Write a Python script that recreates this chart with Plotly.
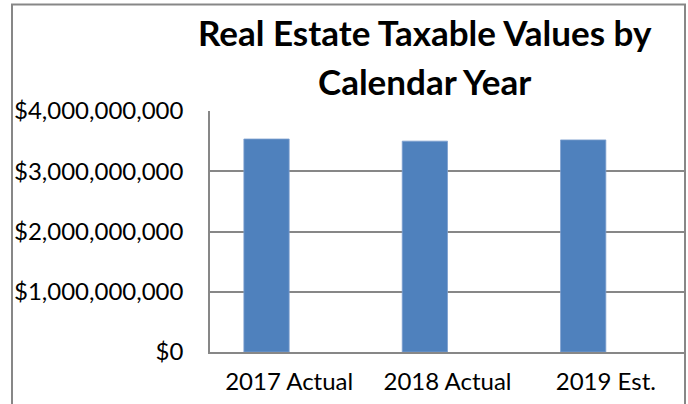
import plotly.graph_objects as go

# Chart data
categories = ["2017 Actual", "2018 Actual", "2019 Est."]
taxable_values = [3.535e9, 3.50e9, 3.52e9]
y_ticks = [0, 1e9, 2e9, 3e9, 4e9]
y_tick_labels = ["$0", "$1,000,000,000", "$2,000,000,000", "$3,000,000,000", "$4,000,000,000"]

BAR_COLOR = "#4F81BD"
LINE_COLOR = "#878787"
FONT = "Lato"

W, H = 688, 404
L, R, T, B = 210, 3, 111, 52
plot_w = W - L - R
plot_h = H - T - B


def px_x(p):
    return (p - L) / plot_w


def px_y(p):
    return (H - B - p) / plot_h


fig = go.Figure()
fig.add_trace(go.Bar(
    x=categories,
    y=taxable_values,
    marker=dict(color=BAR_COLOR, line=dict(color="#7EA0CF", width=0.8)),
    width=0.286,
    offset=-0.286,
    hoverinfo="x+y",
))

fig.update_layout(
    width=W,
    height=H,
    margin=dict(l=L, r=R, t=T, b=B, pad=0),
    paper_bgcolor="white",
    plot_bgcolor="white",
    showlegend=False,
    font=dict(family=FONT, color="black", size=24),
    xaxis=dict(
        range=[-0.5, 2.5],
        showline=True,
        linecolor=LINE_COLOR,
        linewidth=1.5,
        showgrid=False,
        ticks="",
        tickfont=dict(family=FONT, size=24, color="black"),
        ticklabelstandoff=7,
        fixedrange=True,
    ),
    yaxis=dict(
        range=[0, 4e9],
        tickvals=y_ticks,
        ticktext=y_tick_labels,
        showline=True,
        linecolor=LINE_COLOR,
        linewidth=1.5,
        showgrid=True,
        gridcolor=LINE_COLOR,
        gridwidth=1.5,
        zeroline=False,
        ticks="",
        tickfont=dict(family=FONT, size=24, color="black"),
        ticklabelstandoff=20,
        fixedrange=True,
    ),
    shapes=[
        dict(
            type="rect", xref="paper", yref="paper",
            x0=px_x(12), x1=px_x(685), y0=px_y(430), y1=px_y(4.5),
            line=dict(color=LINE_COLOR, width=2),
            fillcolor="rgba(0,0,0,0)",
            layer="above",
        )
    ],
    annotations=[
        dict(
            text="<b>Real Estate Taxable Values by</b>",
            xref="paper", yref="paper",
            x=px_x(424.5), y=px_y(32),
            xanchor="center", yanchor="middle",
            showarrow=False,
            font=dict(family=FONT, size=35, color="black"),
        ),
        dict(
            text="<b>Calendar Year</b>",
            xref="paper", yref="paper",
            x=px_x(424.5), y=px_y(81),
            xanchor="center", yanchor="middle",
            showarrow=False,
            font=dict(family=FONT, size=35, color="black"),
        ),
    ],
)

fig.write_html("out.html")
